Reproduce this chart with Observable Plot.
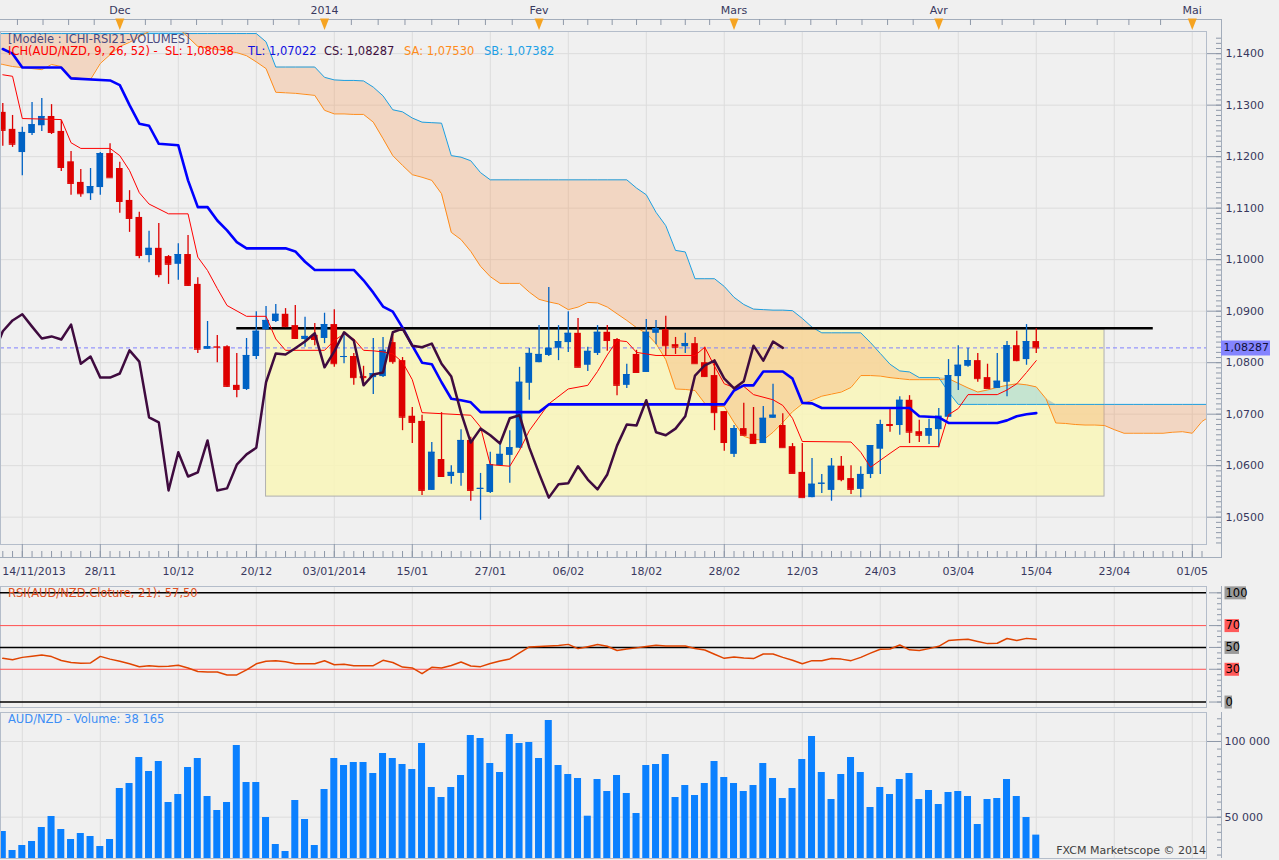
<!DOCTYPE html>
<html lang="fr">
<head>
<meta charset="utf-8">
<title>AUD/NZD Ichimoku – RSI – Volume</title>
<script src="https://cdn.jsdelivr.net/npm/d3@7"></script>
<script src="https://cdn.jsdelivr.net/npm/@observablehq/plot@0.6"></script>
<style>
  html, body { margin:0; padding:0; background:#f0f0f0; }
  body { width:1279px; height:860px; position:relative; overflow:hidden; font-family:"DejaVu Sans", Verdana, sans-serif; }
  .panel { position:absolute; left:0; }
  .lbl { position:absolute; font-size:11.5px; line-height:13px; white-space:pre; }
</style>
</head>
<body>
<div id="main" class="panel" style="top:0px"></div>
<div id="rsi" class="panel" style="top:585px"></div>
<div id="vol" class="panel" style="top:711px"></div>
<div class="lbl" style="left:8px;top:33px;color:#4a4a80">[Modèle : ICHI-RSI21-VOLUMES]</div>
<div class="lbl" style="left:8px;top:45px;color:#ff0000">ICH(AUD/NZD, 9, 26, 52) -  SL: 1,08038</div>
<div class="lbl" style="left:248px;top:45px;color:#1010e0">TL: 1,07022</div>
<div class="lbl" style="left:324px;top:45px;color:#401040">CS: 1,08287</div>
<div class="lbl" style="left:404px;top:45px;color:#ff8c1a">SA: 1,07530</div>
<div class="lbl" style="left:484px;top:45px;color:#1ca0e6">SB: 1,07382</div>
<div class="lbl" style="left:8px;top:587px;color:#e05020">RSI(AUD/NZD.Cloture, 21): 57,50</div>
<div class="lbl" style="left:8px;top:713px;color:#3d8ef5">AUD/NZD - Volume: 38 165</div>
<div class="lbl" style="right:73px;top:844px;color:#404040;font-size:11px">FXCM Marketscope © 2014</div>
<script>
// ---------- DATA ----------
// bar index 0 = 14/11/2013 (trading days); first visible bar is index -2
const BAR0 = -2;
const OPEN = [
1.1286,1.1253,1.1208,1.1245,1.1260,1.1278,1.1249,1.1190,1.1150,1.1128,
1.1140,1.1206,1.1177,1.1115,1.1082,1.1008,1.1022,1.1006,1.0991,1.1010,
1.0952,1.0826,1.0831,1.0831,1.0756,1.0748,1.0812,1.0864,1.0880,1.0894,
1.0872,1.0845,1.0853,1.0847,1.0874,1.0810,1.0812,1.0773,1.0771,1.0773,
1.0839,1.0804,1.0696,1.0686,1.0552,1.0612,1.0579,1.0585,1.0649,1.0554,
1.0548,1.0600,1.0620,1.0634,1.0760,1.0800,1.0814,1.0828,1.0839,1.0857,
1.0795,1.0818,1.0859,1.0845,1.0756,1.0816,1.0781,1.0857,1.0864,1.0835,
1.0831,1.0837,1.0800,1.0775,1.0705,1.0622,1.0672,1.0661,1.0643,1.0692,
1.0678,1.0637,1.0587,1.0538,1.0564,1.0552,1.0599,1.0575,1.0554,1.0583,
1.0632,1.0680,1.0678,1.0727,1.0666,1.0657,1.0670,1.0694,1.0773,1.0793,
1.0804,1.0771,1.0750,1.0762,1.0833,1.0806,1.0841];
const HIGH = [
1.1303,1.1280,1.1257,1.1305,1.1313,1.1301,1.1270,1.1210,1.1175,1.1177,
1.1208,1.1225,1.1189,1.1134,1.1092,1.1055,1.1070,1.1008,1.1031,1.1047,
1.0965,1.0880,1.0853,1.0833,1.0818,1.0847,1.0899,1.0909,1.0913,1.0905,
1.0911,1.0888,1.0876,1.0896,1.0903,1.0857,1.0818,1.0793,1.0847,1.0849,
1.0859,1.0810,1.0713,1.0698,1.0645,1.0703,1.0600,1.0670,1.0655,1.0585,
1.0626,1.0641,1.0668,1.0791,1.0828,1.0872,1.0946,1.0872,1.0899,1.0886,
1.0830,1.0872,1.0872,1.0847,1.0797,1.0824,1.0884,1.0882,1.0890,1.0849,
1.0857,1.0849,1.0830,1.0806,1.0705,1.0678,1.0721,1.0713,1.0715,1.0758,
1.0701,1.0643,1.0643,1.0614,1.0583,1.0614,1.0618,1.0600,1.0598,1.0639,
1.0688,1.0713,1.0734,1.0736,1.0688,1.0690,1.0711,1.0806,1.0833,1.0828,
1.0818,1.0797,1.0818,1.0841,1.0861,1.0874,1.0866];
const LOW = [
1.1220,1.1218,1.1163,1.1241,1.1249,1.1243,1.1171,1.1125,1.1121,1.1115,
1.1125,1.1159,1.1090,1.1053,1.1002,1.0994,1.0965,1.0952,1.0960,1.0948,
1.0818,1.0826,1.0800,1.0752,1.0732,1.0746,1.0806,1.0863,1.0878,1.0868,
1.0845,1.0830,1.0833,1.0837,1.0791,1.0798,1.0756,1.0754,1.0738,1.0771,
1.0797,1.0668,1.0643,1.0542,1.0552,1.0579,1.0564,1.0560,1.0531,1.0494,
1.0546,1.0600,1.0566,1.0633,1.0727,1.0800,1.0812,1.0804,1.0820,1.0791,
1.0783,1.0814,1.0822,1.0736,1.0750,1.0781,1.0781,1.0835,1.0814,1.0816,
1.0818,1.0798,1.0771,1.0668,1.0628,1.0616,1.0659,1.0643,1.0643,1.0692,
1.0635,1.0585,1.0538,1.0538,1.0546,1.0531,1.0569,1.0544,1.0538,1.0575,
1.0583,1.0665,1.0659,1.0643,1.0645,1.0641,1.0635,1.0694,1.0746,1.0791,
1.0762,1.0750,1.0750,1.0734,1.0802,1.0795,1.0818];
const CLOSE = [
1.1251,1.1224,1.1247,1.1262,1.1278,1.1247,1.1179,1.1148,1.1128,1.1142,
1.1206,1.1159,1.1113,1.1080,1.1008,1.1022,1.0971,1.0991,1.1010,1.0950,
1.0826,1.0831,1.0830,1.0754,1.0748,1.0814,1.0861,1.0882,1.0894,1.0870,
1.0847,1.0851,1.0845,1.0874,1.0798,1.0812,1.0771,1.0771,1.0779,1.0824,
1.0802,1.0694,1.0684,1.0552,1.0626,1.0579,1.0587,1.0649,1.0552,1.0556,
1.0602,1.0622,1.0635,1.0762,1.0818,1.0816,1.0828,1.0841,1.0857,1.0791,
1.0822,1.0859,1.0843,1.0756,1.0777,1.0781,1.0859,1.0866,1.0833,1.0830,
1.0837,1.0798,1.0773,1.0703,1.0645,1.0672,1.0659,1.0643,1.0692,1.0698,
1.0635,1.0585,1.0538,1.0564,1.0566,1.0599,1.0573,1.0554,1.0583,1.0639,
1.0680,1.0678,1.0727,1.0665,1.0659,1.0672,1.0696,1.0775,1.0795,1.0804,
1.0769,1.0750,1.0764,1.0833,1.0804,1.0841,1.08287];

// Ichimoku: SL (red), TL (blue) as [bar, price] vertices
const SL_LINE = [[-2,1.1359],[-1,1.1356],[0,1.1274],[4,1.1272],[5,1.1227],[6,1.1216],[9,1.1216],[10,1.1202],[11,1.1173],[12,1.1130],[13,1.1108],[15,1.1089],[17,1.1089],[18,1.1005],[19,1.0979],[20,1.0944],[21,1.0911],[23,1.0890],[25,1.0890],[26,1.0846],[27,1.0824],[31,1.0824],[32,1.0843],[33,1.0856],[34,1.0846],[35,1.0824],[36,1.0823],[37,1.0821],[38,1.0817],[39,1.0801],[40,1.0767],[41,1.0703],[46,1.0698],[47,1.0675],[48,1.0602],[50,1.0599],[51,1.0630],[52,1.0668],[54,1.0720],[56,1.0749],[58,1.0756],[59,1.0783],[60,1.0815],[61,1.0843],[62,1.0841],[63,1.0820],[65,1.0814],[69,1.0814],[70,1.0830],[71,1.0793],[72,1.0759],[73,1.0752],[74,1.0754],[75,1.0738],[77,1.0728],[78,1.0717],[79,1.0692],[80,1.0647],[85,1.0646],[86,1.0626],[87,1.0597],[89,1.0624],[90,1.0637],[94,1.0637],[95,1.0699],[96,1.0711],[97,1.0738],[100,1.0738],[101,1.0747],[102,1.0759],[103,1.0781],[104,1.0804]];
const TL_LINE = [[-2,1.1409],[-1,1.1400],[0,1.1373],[4,1.1373],[5,1.1352],[9,1.1348],[10,1.1339],[11,1.1300],[12,1.1264],[13,1.1260],[14,1.1225],[16,1.1222],[17,1.1154],[18,1.1102],[19,1.1102],[20,1.1076],[21,1.1057],[22,1.1034],[23,1.1022],[27,1.1022],[28,1.1016],[29,1.0996],[30,1.0980],[34,1.0980],[35,1.0960],[36,1.0936],[37,1.0909],[38,1.0899],[39,1.0868],[40,1.0833],[41,1.0800],[42,1.0797],[43,1.0762],[44,1.0730],[45,1.0727],[46,1.0723],[47,1.0704],[53,1.0704],[54,1.0719],[72,1.0719],[73,1.0746],[74,1.0756],[75,1.0756],[76,1.0783],[78,1.0783],[79,1.0769],[80,1.0722],[81,1.0721],[82,1.0712],[91,1.0712],[92,1.0696],[94,1.0694],[95,1.0683],[100,1.0683],[101,1.0688],[102,1.0696],[103,1.0700],[104,1.0702]];

// Cloud (Senkou A / B), one value per bar from index -3 to 122
const CLOUD0 = -3;
const SENKOU_A = [
1.1383,1.1379,1.1375,1.1373,1.1371,1.1369,1.1379,1.1375,1.1354,1.1352,
1.1350,1.1381,1.1398,1.1414,1.1422,1.1433,1.1443,1.1452,1.1455,1.1450,
1.1432,1.1414,1.1411,1.1408,1.1405,1.1402,1.1396,1.1384,1.1371,1.1325,
1.1324,1.1323,1.1321,1.1319,1.1290,1.1283,1.1283,1.1282,1.1282,1.1267,
1.1235,1.1202,1.1183,1.1165,1.1160,1.1154,1.1128,1.1053,1.1039,1.1016,
1.0987,1.0967,1.0954,1.0954,1.0954,1.0937,1.0923,1.0918,1.0914,1.0903,
1.0908,1.0917,1.0916,1.0908,1.0895,1.0882,1.0868,1.0857,1.0837,1.0806,
1.0749,1.0748,1.0746,1.0721,1.0715,1.0715,1.0684,1.0657,1.0651,1.0650,
1.0665,1.0684,1.0705,1.0720,1.0727,1.0735,1.0739,1.0743,1.0752,1.0775,
1.0775,1.0774,1.0771,1.0769,1.0767,1.0767,1.0767,1.0767,1.0769,1.0760,
1.0751,1.0743,1.0747,1.0752,1.0756,1.0759,1.0757,1.0753,1.0730,1.0683,
1.0682,1.0680,1.0679,1.0679,1.0678,1.0670,1.0663,1.0663,1.0663,1.0663,
1.0663,1.0665,1.0666,1.0663,1.0686,1.0698];
const SENKOU_B = [
1.1439,1.1439,1.1439,1.1439,1.1439,1.1439,1.1439,1.1439,1.1439,1.1439,
1.1439,1.1439,1.1439,1.1439,1.1439,1.1439,1.1439,1.1439,1.1439,1.1439,
1.1439,1.1439,1.1439,1.1439,1.1439,1.1439,1.1439,1.1439,1.1423,1.1374,
1.1374,1.1374,1.1374,1.1374,1.1354,1.1349,1.1348,1.1348,1.1347,1.1335,
1.1318,1.1291,1.1287,1.1275,1.1267,1.1266,1.1265,1.1202,1.1199,1.1192,
1.1169,1.1155,1.1155,1.1155,1.1155,1.1155,1.1155,1.1155,1.1155,1.1155,
1.1155,1.1155,1.1155,1.1155,1.1155,1.1155,1.1139,1.1126,1.1092,1.1066,
1.1018,1.1015,1.0963,1.0963,1.0963,1.0948,1.0927,1.0913,1.0904,1.0903,
1.0902,1.0902,1.0901,1.0886,1.0869,1.0858,1.0858,1.0858,1.0858,1.0858,
1.0839,1.0818,1.0797,1.0784,1.0782,1.0771,1.0771,1.0771,1.0743,1.0719,
1.0719,1.0719,1.0719,1.0719,1.0719,1.0719,1.0719,1.0719,1.0719,1.0719,
1.0719,1.0719,1.0719,1.0719,1.0719,1.0719,1.0719,1.0719,1.0719,1.0719,
1.0719,1.0719,1.0719,1.0719,1.0719,1.0719];

const RSI = [
40.0,38.8,40.9,42,43.1,41.6,38,36.3,35.5,35.8,
41.8,39.3,37.4,35,32.4,33.2,32.6,32.8,33.6,31.2,
28,27.4,27.5,24.8,24.8,29.4,35,37.3,37.8,36.8,
35.1,35.1,35.1,37.8,34.2,34.5,33.3,33.3,33.3,38.2,
36.2,32,31.2,26,31.8,31.1,33.5,36.6,33,32.4,
35.3,37.6,39.5,45,50.5,50.9,51.3,51.8,52.8,48.9,
50.7,52.6,51.1,47.2,48.5,49.6,50.8,52,51.4,51.4,
51.4,49,47.6,43.8,40,41.3,40.3,39.8,44,44,
40.9,38.2,35,37.9,37.9,39.9,39.3,37.9,40.9,44.8,
48.4,48.6,52.2,47.8,47.1,48.9,51,56.3,57,57.5,
55.5,53.5,53.8,58.2,56.3,58.3,57.5];
const VOLUME = [
40555,28005,31308,33950,43197,50462,41876,35271,39234,37252,
30647,35271,68956,72259,89432,80185,86790,59709,64993,82827,
88771,63672,54425,59709,97358,72919,72919,49802,31968,27345,
61030,48481,31308,68296,88771,84148,86129,86129,78864,92074,
88771,84808,81506,98679,69617,63012,69617,77543,103963,101981,
85469,79524,104623,98679,99339,88771,113870,84148,78203,75561,
50660,74901,66975,77543,65654,52444,84148,84808,91413,63012,
70938,64333,72259,86790,76222,72259,66975,70938,85469,75561,
62351,68956,88111,103302,79524,61691,78203,89432,79524,56407,
69617,64993,74901,78864,61691,67635,58388,66314,66975,63672,
45178,61691,62351,74901,63672,49802,38165];

const LAST_CLOSE = 1.08287;
const LAST_LABEL = "1,08287";
const RESIST = {i1: 22, i2: 116, p: 1.0867};
const RANGE_BOX = {i1: 25, i2: 111, hi: 1.0864, lo: 1.0540};

const MONTHS = ["Dec", "2014", "Fev", "Mars", "Avr", "Mai"];
const MONTH_IDX = [10, 31, 53, 73, 94, 120];
const DATE_LABELS = ["14/11/2013","28/11","10/12","20/12","03/01/2014","15/01","27/01","06/02","18/02","28/02","12/03","24/03","03/04","15/04","23/04","01/05"];
const DATE_IDX = [0,8,16,24,32,40,48,56,64,72,80,88,96,104,112,120];
const PRICE_TICKS = [1.05,1.06,1.07,1.08,1.09,1.10,1.11,1.12,1.13,1.14];
const RSI_LEVELS = [100, 70, 50, 30, 0];
const VOL_TICKS = [100000, 50000];

// ---------- TABLES ----------
const candles = OPEN.map((o, k) => ({i: BAR0 + k, o, h: HIGH[k], l: LOW[k], c: CLOSE[k]}));
const chikou = candles.filter(d => d.i - 26 >= -3).map(d => ({i: d.i - 26, v: d.c}));
const cloud = SENKOU_A.map((sa, k) => ({i: CLOUD0 + k, sa, sb: SENKOU_B[k]}));
const rsi = RSI.map((v, k) => ({i: BAR0 + k, v}));
const vols = VOLUME.map((v, k) => ({i: BAR0 + k, v}));

// ---------- STYLE ----------
const W = 1279, PW = 1206;
const X_DOMAIN = [-2.236, 121.46];
const AXIS = "#38385e", GRID = "#dcdcdc", FRAME = "#b4bdca", OUTER = "#a3adbb", TICK = "#8e98a8";
const RED = "#dd0000", BLUE = "#0062c4";
const col = d => d.c >= d.o ? BLUE : RED;
const HW = 0.34;
const baseStyle = {background: "transparent", fontFamily: "DejaVu Sans, Verdana, sans-serif", fontSize: "11px", overflow: "visible"};
const fmtP = d => d3.format(".4f")(d).replace(".", ",");
const fmtV = d => d3.format(",")(d).replace(/,/g, " ");

// top-axis minor ticks: 8 divisions per month
const TOP_TICKS = [];
{
  const s0 = (MONTH_IDX[1] - MONTH_IDX[0]) / 8;
  for (let k = 1; k <= 4; k++) TOP_TICKS.push(MONTH_IDX[0] - k * s0);
  for (let m = 0; m < MONTH_IDX.length - 1; m++) {
    const a = MONTH_IDX[m], b = MONTH_IDX[m + 1];
    for (let k = 1; k < 8; k++) TOP_TICKS.push(a + k * (b - a) / 8);
  }
}
const BAR_TICKS = d3.range(-2, 122);
const MINOR_PRICE = d3.range(1045, 1144).map(d => d / 1000);
const DOWN = {draw(ctx) { ctx.moveTo(-4.5, -6); ctx.lineTo(4.5, -6); ctx.lineTo(0, 5.5); ctx.closePath(); }};

// ---------- MAIN PANEL ----------
const mainPlot = Plot.plot({
  width: W, height: 585, marginTop: 31, marginBottom: 41, marginLeft: 0, marginRight: 73,
  style: baseStyle,
  x: {domain: X_DOMAIN, axis: null},
  y: {domain: [1.0447, 1.1443], axis: null},
  marks: [
    Plot.ruleX(DATE_IDX, {stroke: GRID}),
    Plot.ruleY(PRICE_TICKS, {stroke: GRID}),
    Plot.rect([RANGE_BOX], {x1: "i1", x2: "i2", y1: "lo", y2: "hi", fill: "#f9f6b9", fillOpacity: 0.85, stroke: "#b0b0b0"}),
    Plot.areaY(cloud, {x: "i", y1: "sa", y2: d => Math.max(d.sa, d.sb), fill: "#f5a060", fillOpacity: 0.32, clip: true}),
    Plot.areaY(cloud, {x: "i", y1: "sb", y2: d => Math.max(d.sa, d.sb), fill: "#4fbef5", fillOpacity: 0.3, clip: true}),
    Plot.line(cloud, {x: "i", y: "sb", stroke: "#1c9fe0", strokeWidth: 1, clip: true}),
    Plot.line(cloud, {x: "i", y: "sa", stroke: "#ff8c1a", strokeWidth: 1, clip: true}),
    Plot.ruleY([RESIST], {y: "p", x1: "i1", x2: "i2", stroke: "#000", strokeWidth: 2.5}),
    Plot.ruleY([LAST_CLOSE], {stroke: "#8080ff", strokeDasharray: "4,3"}),
    // candles
    Plot.ruleX(candles, {x: "i", y1: "l", y2: "h", stroke: col, strokeWidth: 1.3, clip: true}),
    Plot.rect(candles, {x1: d => d.i - HW, x2: d => d.i + HW, y1: "o", y2: "c", fill: col, clip: true}),
    Plot.ruleY(candles, {y: "c", x1: d => d.i - HW, x2: d => d.i + HW, stroke: col, clip: true}),
    // indicator lines
    Plot.line(SL_LINE, {x: d => d[0], y: d => d[1], stroke: "#ff0000", strokeWidth: 1, clip: true}),
    Plot.line(TL_LINE, {x: d => d[0], y: d => d[1], stroke: "#0000ff", strokeWidth: 2.6, clip: true}),
    Plot.line(chikou, {x: "i", y: "v", stroke: "#3f0b3f", strokeWidth: 2.5, clip: true}),
    // frames
    Plot.frame({stroke: FRAME}),
    Plot.frame({insetTop: -12, insetRight: -15, insetBottom: -13, insetLeft: -3, stroke: OUTER}),
    // top axis
    Plot.tickX(TOP_TICKS, {x: d => d, insetBottom: 507, dy: -12, stroke: TICK}),
    Plot.dot(MONTH_IDX, {x: d => d, frameAnchor: "top", dy: -7, symbol: DOWN, fill: "#f5a321", stroke: "none", r: 4}),
    Plot.text(MONTH_IDX, {x: d => d, text: (d, k) => MONTHS[k], frameAnchor: "top", dy: -25, fill: AXIS}),
    // bottom axis
    Plot.tickX(DATE_IDX, {x: d => d, insetTop: 500, dy: 13, stroke: TICK}),
    Plot.tickX(BAR_TICKS, {x: d => d, insetTop: 507, dy: 13, stroke: TICK}),
    Plot.text(DATE_IDX.slice(0, 1), {x: d => d, text: (d, k) => DATE_LABELS[k], frameAnchor: "bottom", dy: 30, dx: -20, textAnchor: "start", fill: AXIS}),
    Plot.text(DATE_IDX.slice(1), {x: d => d, text: (d, k) => DATE_LABELS[k + 1], frameAnchor: "bottom", dy: 30, fill: AXIS}),
    // right axis
    Plot.tickY(MINOR_PRICE, {y: d => d, insetLeft: PW - 5, dx: 15, stroke: TICK}),
    Plot.tickY(PRICE_TICKS, {y: d => d, insetLeft: PW - 14, dx: 15, stroke: TICK}),
    Plot.text(PRICE_TICKS, {y: d => d, text: fmtP, frameAnchor: "right", textAnchor: "start", dx: 19, fill: AXIS}),
    Plot.tickY([LAST_CLOSE], {y: d => d, insetLeft: PW - 49, dx: 64, stroke: "#8484ff", strokeWidth: 15}),
    Plot.text([LAST_CLOSE], {y: d => d, text: () => LAST_LABEL, frameAnchor: "right", textAnchor: "start", dx: 17, fill: "#101038"})
  ]
});
document.getElementById("main").appendChild(mainPlot);

// ---------- RSI PANEL ----------
const RSI_BOX = {100: "#9a9a9a", 70: "#ff5a5a", 50: "#9a9a9a", 30: "#ff5a5a", 0: "#9a9a9a"};
const rsiPlot = Plot.plot({
  width: W, height: 123, marginTop: 1, marginBottom: 1, marginLeft: 0, marginRight: 73,
  style: baseStyle,
  x: {domain: X_DOMAIN, axis: null},
  y: {domain: [-5.0, 105.8], axis: null},
  marks: [
    Plot.ruleX(DATE_IDX, {stroke: GRID}),
    Plot.frame({stroke: FRAME}),
    Plot.ruleY([100, 50, 0], {stroke: "#000", strokeWidth: 1.5}),
    Plot.ruleY([70, 30], {stroke: "#ff5050"}),
    Plot.line(rsi, {x: "i", y: "v", stroke: "#e04400", strokeWidth: 1.5}),
    Plot.ruleX([X_DOMAIN[1]], {dx: 15, stroke: OUTER}),
    Plot.tickY(d3.range(0, 101, 5), {y: d => d, insetLeft: PW - 4, dx: 15, stroke: TICK}),
    Plot.tickY(RSI_LEVELS, {y: d => d, insetLeft: PW - 12, dx: 15, stroke: TICK}),
    ...RSI_LEVELS.map(lv => {
      const w = String(lv).length * 7 + 0.5;
      return Plot.tickY([lv], {y: d => d, insetLeft: PW - w, dx: 18.5 + w, stroke: RSI_BOX[lv], strokeWidth: 13});
    }),
    Plot.text(RSI_LEVELS, {y: d => d, text: d => String(d), frameAnchor: "right", textAnchor: "start", dx: 19, fill: "#000", fontSize: 11.5})
  ]
});
document.getElementById("rsi").appendChild(rsiPlot);

// ---------- VOLUME PANEL ----------
const VOL_DOMAIN = [22722, 119154];
const volPlot = Plot.plot({
  width: W, height: 149, marginTop: 1, marginBottom: 2, marginLeft: 0, marginRight: 73,
  style: baseStyle,
  x: {domain: X_DOMAIN, axis: null},
  y: {domain: VOL_DOMAIN, axis: null},
  marks: [
    Plot.ruleX(DATE_IDX, {stroke: GRID}),
    Plot.ruleY(VOL_TICKS, {stroke: GRID}),
    Plot.rect(vols, {x1: d => d.i - 0.36, x2: d => d.i + 0.36, y1: VOL_DOMAIN[0], y2: "v", fill: "#0a80ff", clip: true}),
    Plot.frame({stroke: FRAME}),
    Plot.ruleX([X_DOMAIN[1]], {dx: 15, stroke: OUTER}),
    Plot.tickY(d3.range(25000, 119000, 5000), {y: d => d, insetLeft: PW - 4, dx: 15, stroke: TICK}),
    Plot.tickY(VOL_TICKS, {y: d => d, insetLeft: PW - 14, dx: 15, stroke: TICK}),
    Plot.text(VOL_TICKS, {y: d => d, text: fmtV, frameAnchor: "right", textAnchor: "start", dx: 18, fill: AXIS})
  ]
});
document.getElementById("vol").appendChild(volPlot);
</script>
</body>
</html>
